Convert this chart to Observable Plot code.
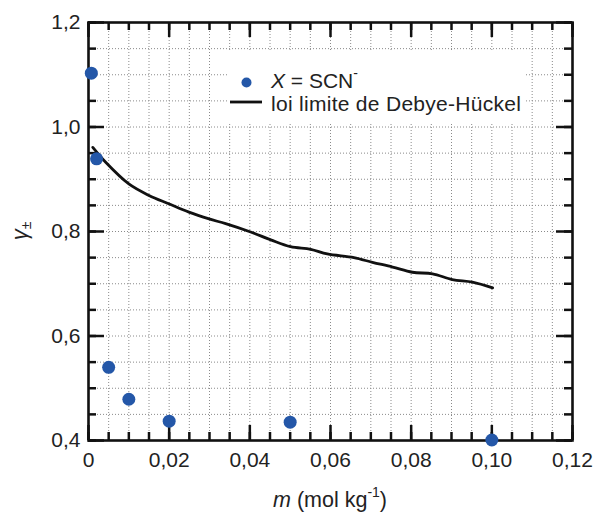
<!DOCTYPE html>
<html><head><meta charset="utf-8">
<script src="https://cdn.jsdelivr.net/npm/d3@7"></script>
<script src="https://cdn.jsdelivr.net/npm/@observablehq/plot@0.6"></script>
<style>body{margin:0;background:#fff}</style>
</head><body><div id="chart"></div><script>
// Experimental points (X = SCN-)
const mPoints = [0.0007, 0.002, 0.005, 0.01, 0.02, 0.05, 0.10];
const gammaPoints = [1.103, 0.939, 0.540, 0.479, 0.437, 0.435, 0.401];
// Debye-Hückel limiting law curve
const mDH = [0.00107, 0.0042, 0.0100, 0.0150, 0.0199, 0.0249, 0.0299, 0.0340, 0.0402, 0.0452, 0.0501, 0.0551, 0.0592, 0.0658, 0.0704, 0.0754, 0.0803, 0.0853, 0.0902, 0.0952, 0.1002];
const gammaDH = [0.961, 0.933, 0.891, 0.869, 0.853, 0.837, 0.824, 0.815, 0.799, 0.784, 0.771, 0.766, 0.757, 0.750, 0.741, 0.732, 0.722, 0.719, 0.708, 0.703, 0.692];
// Ticks
const xMajorTicks = [0, 0.02, 0.04, 0.06, 0.08, 0.10, 0.12];
const xTickLabels = ["0", "0,02", "0,04", "0,06", "0,08", "0,10", "0,12"];
const xMinorTicks = [0,0.005,0.01,0.015,0.02,0.025,0.03,0.035,0.04,0.045,0.05,0.055,0.06,0.065,0.07,0.075,0.08,0.085,0.09,0.095,0.10,0.105,0.11,0.115,0.12];
const yMajorTicks = [0.4, 0.6, 0.8, 1.0, 1.2];
const yTickLabels = ["0,4", "0,6", "0,8", "1,0", "1,2"];
const yMinorTicks = [0.4,0.45,0.5,0.55,0.6,0.65,0.7,0.75,0.8,0.85,0.9,0.95,1.0,1.05,1.1,1.15,1.2];

const W = 596, H = 514;
const mL = 88, mR = 24, mT = 22, mB = 74;
const pw = W - mL - mR, ph = H - mT - mB;

const pts = mPoints.map((m, i) => ({m, g: gammaPoints[i]}));
const dh = mDH.map((m, i) => ({m, g: gammaDH[i]}));
const font = "'Liberation Sans', Arial, Helvetica, sans-serif";
const xLab = new Map(xMajorTicks.map((t, i) => [t, xTickLabels[i]]));
const yLab = new Map(yMajorTicks.map((t, i) => [t, yTickLabels[i]]));

const tw = 2.5;
const chart = Plot.plot({
  width: W, height: H,
  marginLeft: mL, marginRight: mR, marginTop: mT, marginBottom: mB,
  style: {fontFamily: font, fontSize: "21px", color: "#222", background: "#fff"},
  x: {domain: [0, 0.12]},
  y: {domain: [0.4, 1.2]},
  marks: [
    // dotted grid
    Plot.ruleX(xMinorTicks, {stroke: "#8a8a8a", strokeWidth: 1, strokeDasharray: "1,2"}),
    Plot.ruleY(yMinorTicks, {stroke: "#8a8a8a", strokeWidth: 1, strokeDasharray: "1,2"}),
    // inward ticks on all four sides
    Plot.ruleX(xMinorTicks, {stroke: "#111", strokeWidth: tw, insetTop: ph - 8}),
    Plot.ruleX(xMinorTicks, {stroke: "#111", strokeWidth: tw, insetBottom: ph - 8}),
    Plot.ruleX(xMajorTicks, {stroke: "#111", strokeWidth: tw, insetTop: ph - 15}),
    Plot.ruleX(xMajorTicks, {stroke: "#111", strokeWidth: tw, insetBottom: ph - 15}),
    Plot.ruleY(yMinorTicks, {stroke: "#111", strokeWidth: tw, insetRight: pw - 8}),
    Plot.ruleY(yMinorTicks, {stroke: "#111", strokeWidth: tw, insetLeft: pw - 8}),
    Plot.ruleY(yMajorTicks, {stroke: "#111", strokeWidth: tw, insetRight: pw - 16}),
    Plot.ruleY(yMajorTicks, {stroke: "#111", strokeWidth: tw, insetLeft: pw - 16}),
    // tick labels
    Plot.axisX({ticks: xMajorTicks, tickSize: 0, tickPadding: 12, tickFormat: d => xLab.get(d), label: null, fontSize: 21}),
    Plot.axisY({ticks: yMajorTicks, tickSize: 0, tickPadding: 8, tickFormat: d => yLab.get(d), label: null, fontSize: 21}),
    Plot.frame({stroke: "#111", strokeWidth: 2.6}),
    Plot.line(dh, {x: "m", y: "g", stroke: "#111", strokeWidth: 2.8, curve: "catmull-rom"}),
    Plot.dot(pts, {x: "m", y: "g", r: 6.5, fill: "#2457a8", stroke: "none", clip: false})
  ]
});
document.getElementById("chart").appendChild(chart);

const svg = d3.select(chart);
// legend
const lg = svg.append("g").attr("font-family", font).attr("font-size", 21).attr("fill", "#222").attr("text-anchor", "start");
lg.append("rect").attr("x", 228).attr("y", 52).attr("width", 296).attr("height", 70).attr("fill", "#ffffff").attr("stroke", "none");
lg.append("circle").attr("cx", 246.5).attr("cy", 82.5).attr("r", 5).attr("fill", "#2457a8");
const t1 = lg.append("text").attr("x", 271).attr("y", 88).attr("text-anchor", "start");
t1.append("tspan").attr("font-style", "italic").text("X");
t1.append("tspan").text(" = SCN");
t1.append("tspan").attr("font-size", 14).attr("dy", -10).text("-");
lg.append("line").attr("x1", 230).attr("x2", 262).attr("y1", 102).attr("y2", 102).attr("stroke", "#111").attr("stroke-width", 2.8);
lg.append("text").attr("x", 271).attr("y", 111).attr("text-anchor", "start").attr("textLength", 250).text("loi limite de Debye-Hückel");

// x-axis label
const xl = svg.append("text").attr("x", mL + pw / 2).attr("y", 507).attr("text-anchor", "middle")
  .attr("font-family", font).attr("font-size", 21.5).attr("fill", "#222");
xl.append("tspan").attr("font-style", "italic").text("m");
xl.append("tspan").text(" (mol kg");
xl.append("tspan").attr("font-size", 14).attr("dy", -10).text("-1");
xl.append("tspan").attr("dy", 10).text(")");

// y-axis label
const yl = svg.append("text").attr("transform", `translate(27,${mT + ph / 2}) rotate(-90)`).attr("text-anchor", "middle")
  .attr("font-family", font).attr("font-size", 22).attr("fill", "#222");
yl.append("tspan").attr("font-style", "italic").text("γ");
yl.append("tspan").attr("font-size", 14).attr("dy", 4).text("±");
</script></body></html>
